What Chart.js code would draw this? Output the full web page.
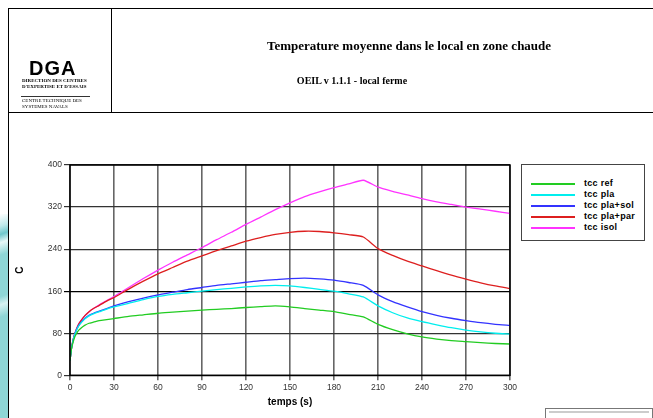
<!DOCTYPE html>
<html>
<head>
<meta charset="utf-8">
<script src="https://cdn.jsdelivr.net/npm/chart.js@4"></script>
<style>
  html, body { margin: 0; padding: 0; background: #fff; }
  body { width: 653px; height: 418px; position: relative; overflow: hidden; font-family: "Liberation Sans", Arial, sans-serif; }
  #c { position: absolute; left: 0; top: 0; }
  .ln { position: absolute; background: #000; }
  .abs { position: absolute; white-space: nowrap; }
  .serif { font-family: "Liberation Serif", "Times New Roman", serif; }
  #deco { position: absolute; left: 0; top: 214px; width: 8px; height: 204px;
    background: linear-gradient(160deg, #fff 0%, #bfe9ea 6%, #6fc7cc 10%, #e8f8f8 14%, #8fd6d6 20%, #8fd6d6 40%, #d8f2f2 44%, #8fd6d6 50%, #8fd6d6 100%); }
  #legend { position: absolute; left: 521px; top: 164px; width: 122px; height: 75px; border: 1.5px solid #444; background: #fff; }
  .item { position: absolute; left: 0; height: 11px; font: bold 9px "Liberation Sans", Arial, sans-serif; color: #000; }
  .item span.sw { position: absolute; left: 9px; top: 5px; width: 44px; height: 2px; }
  .item span.tx { position: absolute; left: 62px; top: 0; line-height: 11px; letter-spacing: 0.3px; }
  #stamp { position: absolute; left: 545px; top: 408px; width: 106px; height: 14px; border: 1px solid #777; }
  #stamp div { margin: 2px 3px; height: 2px; background: #ccc; }
</style>
</head>
<body>
<canvas id="c" width="653" height="418"></canvas>

<div id="deco"></div>
<div class="ln" style="left:8px; top:8px; width:645px; height:1px;"></div>
<div class="ln" style="left:8px; top:8px; width:1px; height:410px;"></div>
<div class="ln" style="left:8px; top:112px; width:645px; height:1px;"></div>
<div class="ln" style="left:111px; top:8px; width:1px; height:104px;"></div>

<div class="abs" style="left:29px; top:57px; font-weight:bold; font-size:20px; letter-spacing:1px;">DGA</div>
<div class="abs serif" style="left:22px; top:78px; font-weight:bold; font-size:5px; line-height:5.5px;">DIRECTION DES CENTRES<br>D'EXPERTISE ET D'ESSAIS</div>
<div class="ln" style="left:21px; top:96px; width:69px; height:1px; background:#333;"></div>
<div class="abs serif" style="left:22px; top:98px; font-size:5px; line-height:5.5px;">CENTRE TECHNIQUE DES<br>SYSTEMES NAVALS</div>

<div class="abs serif" style="left:409px; top:38px; transform:translateX(-50%); font-weight:bold; font-size:13px;">Temperature moyenne dans le local en zone chaude</div>
<div class="abs serif" style="left:352px; top:75px; transform:translateX(-50%); font-weight:bold; font-size:10px;">OEIL v 1.1.1 - local ferme</div>

<div id="legend"></div>
<div id="stamp"><div></div></div>

<script>
// temps (s)
var timeS = [0, 1, 2, 3, 4, 5, 6, 8, 10, 13, 16, 20, 25, 30, 40, 50, 60, 70, 80, 90, 100,
  110, 120, 130, 140, 150, 160, 170, 180, 190, 200, 210, 220, 230, 240, 250, 260, 270, 280, 290, 300];

var tccRef = [28, 50, 62, 71, 77, 82, 86, 91, 95, 99, 101, 104, 106, 108, 112, 115, 118, 120, 122, 124, 125.5,
  127, 129, 130.5, 132, 130, 127, 124, 121, 116, 111, 97, 87, 79, 73, 69, 66, 64, 62, 60.5, 59.5];
var tccPla = [28, 51, 65, 76, 83, 89, 94, 101, 107, 113, 117, 121, 126, 130, 137, 144, 150, 154, 157, 160, 163,
  165.5, 168, 170, 171, 170, 167, 163.5, 160, 155, 149, 132, 119, 109, 102, 96, 90.5, 86, 82.5, 80, 78.5];
var tccPlaSol = [28, 51, 65, 76, 84, 90, 95, 102, 108, 114, 118, 122, 127, 132, 140, 147, 153, 158, 163, 167, 171,
  174, 177, 180, 182, 184, 185, 183.5, 181, 176.5, 171, 153, 140, 130, 121, 114, 108.5, 104, 100, 97, 95];
var tccPlaPar = [28, 51, 66, 77, 85, 92, 98, 106, 113, 121, 127, 133, 141, 148, 164, 179, 193, 205, 217, 227, 237,
  246, 255, 262, 268, 272, 274, 273.5, 271, 267.5, 263, 241, 228, 217, 208, 199, 190.5, 183, 176, 170, 165];
var tccIsol = [28, 51, 66, 77, 85, 92, 98, 106, 113, 121, 127, 134, 142, 150, 167, 184, 200, 215, 229, 243, 258,
  272, 287, 301, 315, 328, 340, 349, 357, 364, 371, 358, 350, 343, 336, 330, 325, 320, 316, 312, 308];

var seriesNames = ['tcc ref', 'tcc pla', 'tcc pla+sol', 'tcc pla+par', 'tcc isol'];
var seriesValues = [tccRef, tccPla, tccPlaSol, tccPlaPar, tccIsol];
var seriesColors = ['#22cc22', '#00eeee', '#3333ff', '#dd1f1f', '#ff33ff'];

var xTicks = [0, 30, 60, 90, 120, 150, 180, 210, 240, 270, 300];
var yTicks = [0, 80, 160, 240, 320, 400];

var datasets = seriesNames.map(function (name, i) {
  return {
    label: name,
    data: timeS.map(function (t, k) { return { x: t, y: seriesValues[i][k] }; }),
    borderColor: seriesColors[i],
    backgroundColor: seriesColors[i],
    borderWidth: 1.3,
    pointRadius: 0,
    tension: 0.2,
    fill: false
  };
});

// legend en html
var legend = document.getElementById('legend');
seriesNames.forEach(function (name, i) {
  var it = document.createElement('div');
  it.className = 'item';
  it.style.top = (13 + i * 11.1) + 'px';
  it.style.width = '120px';
  it.innerHTML = '<span class="sw" style="background:' + seriesColors[i] + '"></span><span class="tx">' + name + '</span>';
  legend.appendChild(it);
});

var frame = {
  id: 'frame',
  afterDraw: function (chart) {
    var a = chart.chartArea, c = chart.ctx;
    c.save();
    c.strokeStyle = '#000';
    c.lineWidth = 1.5;
    c.strokeRect(a.left, a.top, a.right - a.left, a.bottom - a.top);
    c.restore();
  }
};

var ctx = document.getElementById('c').getContext('2d');
var chart = new Chart(ctx, {
  type: 'line',
  data: { datasets: datasets },
  options: {
    responsive: false,
    animation: false,
    layout: { padding: { left: 14, top: 165, right: 143, bottom: 0 } },
    plugins: { legend: { display: false }, tooltip: { enabled: false } },
    scales: {
      x: {
        type: 'linear',
        min: 0,
        max: 300,
        afterBuildTicks: function (s) { s.ticks = xTicks.map(function (v) { return { value: v }; }); },
        afterFit: function (s) { s.height = 42.7; },
        grid: { color: '#666', lineWidth: 1.6, tickLength: 5, drawTicks: true },
        border: { display: false },
        ticks: { color: '#333', font: { family: 'Liberation Sans', size: 8.5 }, padding: 2, maxRotation: 0 },
        title: { display: true, text: 'temps (s)', color: '#000', font: { family: 'Liberation Sans', size: 10, weight: 'bold' }, padding: { top: 0, bottom: 10 } }
      },
      y: {
        min: 0,
        max: 400,
        afterBuildTicks: function (s) { s.ticks = yTicks.map(function (v) { return { value: v }; }); },
        afterFit: function (s) { s.width = 56; },
        grid: {
          color: function (c) { return c.tick && c.tick.value === 160 ? '#000' : '#333'; },
          lineWidth: 1.2,
          tickLength: 6
        },
        border: { display: false },
        ticks: { color: '#333', font: { family: 'Liberation Sans', size: 8.5 }, padding: 2 },
        title: { display: true, text: 'C', color: '#000', font: { family: 'Liberation Sans', size: 10, weight: 'bold' }, padding: { top: 0, bottom: 0 } }
      }
    }
  },
  plugins: [frame]
});
</script>
</body>
</html>
